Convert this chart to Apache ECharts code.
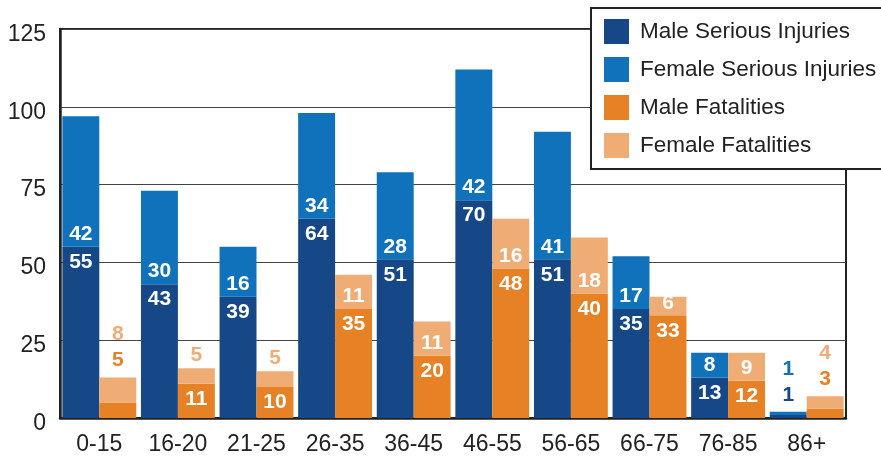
<!DOCTYPE html>
<html>
<head>
<meta charset="utf-8">
<script src="https://cdn.jsdelivr.net/npm/echarts@6/dist/echarts.min.js"></script>
<style>
  html, body { margin: 0; padding: 0; background: #fff; }
  #chart { width: 881px; height: 456px; }
</style>
</head>
<body>
<div id="chart"></div>
<script>
// age groups
const categories = ['0-15', '16-20', '21-25', '26-35', '36-45', '46-55', '56-65', '66-75', '76-85', '86+']
const maleInjuries = [55, 43, 39, 64, 51, 70, 51, 35, 13, 1]
const femaleInjuries = [42, 30, 16, 34, 28, 42, 41, 17, 8, 1]
const maleFatalities = [5, 11, 10, 35, 20, 48, 40, 33, 12, 3]
const femaleFatalities = [8, 5, 5, 11, 11, 16, 18, 6, 9, 4]

const colors = {
  maleInj: '#164888',
  femaleInj: '#1072ba',
  maleFat: '#e68225',
  femaleFat: '#f0ac75'
}
const labelFont = { fontFamily: 'Liberation Sans, Arial, sans-serif', fontSize: 21, fontWeight: 'bold' }

// small segments get their labels above the bar
function buildPair(name1, name2, male, female, stack, c1, c2) {
  const maleData = male.map((v) => {
    return v <= 5 ? { value: v, label: { show: false } } : v
  })
  const femaleData = female.map((v, i) => {
    if (male[i] <= 5) {
      return {
        value: v,
        label: {
          position: 'top',
          distance: 4,
          formatter: '{f|' + v + '}\n{m|' + male[i] + '}',
          rich: {
            f: Object.assign({ color: c2, lineHeight: 26 }, labelFont),
            m: Object.assign({ color: c1, lineHeight: 26 }, labelFont)
          }
        }
      }
    }
    if (v <= 5) {
      return { value: v, label: { position: 'top', distance: 3, color: c2 } }
    }
    return v
  })
  return [{
    name: name1,
    type: 'bar',
    stack: stack,
    barGap: '0%',
    barCategoryGap: '6%',
    itemStyle: { color: c1 },
    label: Object.assign({ show: true, position: 'insideTop', distance: 5, color: '#fff' }, labelFont),
    data: maleData
  }, {
    name: name2,
    type: 'bar',
    stack: stack,
    barGap: '0%',
    barCategoryGap: '6%',
    itemStyle: { color: c2 },
    label: Object.assign({ show: true, position: 'insideBottom', distance: 2, color: '#fff' }, labelFont),
    data: femaleData
  }]
}

const series = [].concat(
  buildPair('Male Serious Injuries', 'Female Serious Injuries', maleInjuries, femaleInjuries, 'inj', colors.maleInj, colors.femaleInj),
  buildPair('Male Fatalities', 'Female Fatalities', maleFatalities, femaleFatalities, 'fat', colors.maleFat, colors.femaleFat)
)

const chart = echarts.init(document.getElementById('chart'))
chart.setOption({
  animation: false,
  textStyle: { fontFamily: 'Liberation Sans, Arial, sans-serif' },
  grid: {
    left: 60,
    right: 35,
    top: 29,
    bottom: 36,
    show: true,
    borderColor: '#222',
    borderWidth: 2
  },
  legend: {
    orient: 'vertical',
    left: 591,
    top: 8,
    itemWidth: 25,
    itemHeight: 25,
    itemGap: 13,
    padding: [11, 20, 11, 13],
    backgroundColor: '#fff',
    borderColor: '#222',
    borderWidth: 2,
    borderRadius: 0,
    icon: 'rect',
    textStyle: { fontSize: 22.5, color: '#222', padding: [0, 0, 0, 6] },
    data: ['Male Serious Injuries', 'Female Serious Injuries', 'Male Fatalities', 'Female Fatalities']
  },
  xAxis: {
    type: 'category',
    data: categories,
    axisLine: { lineStyle: { color: '#222', width: 2.5 } },
    axisTick: { inside: true, length: 6, lineStyle: { color: '#222', width: 2 } },
    axisLabel: { fontSize: 23, color: '#222', margin: 15 }
  },
  yAxis: {
    type: 'value',
    min: 0,
    max: 125,
    interval: 25,
    axisLine: { show: true, lineStyle: { color: '#222', width: 2.5 } },
    axisTick: { show: false },
    // labels sit a little below their gridlines
    axisLabel: { fontSize: 23, color: '#222', margin: 14, verticalAlign: 'top', lineHeight: 11 },
    splitLine: { lineStyle: { color: '#444', width: 1.2 } }
  },
  series: series
})
</script>
</body>
</html>
